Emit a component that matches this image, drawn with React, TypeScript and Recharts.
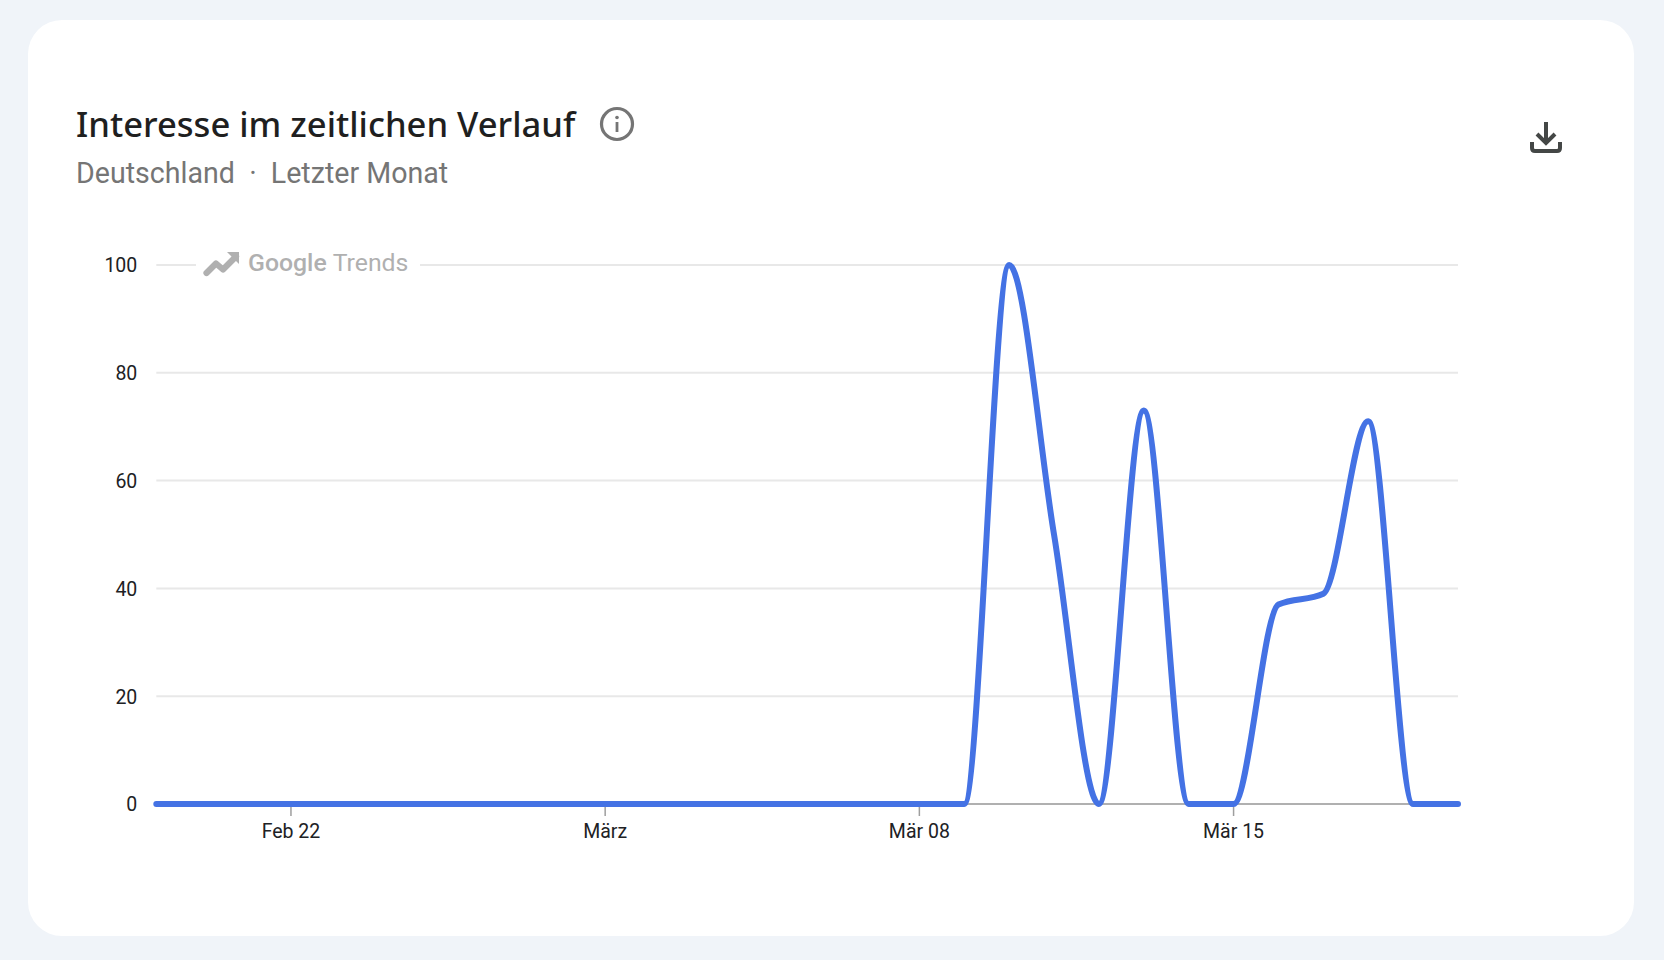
import { LineChart, Line, XAxis, YAxis, CartesianGrid } from 'recharts'

const days = [
  'Feb 19', 'Feb 20', 'Feb 21', 'Feb 22', 'Feb 23', 'Feb 24', 'Feb 25', 'Feb 26', 'Feb 27', 'Feb 28',
  'März', 'Mär 02', 'Mär 03', 'Mär 04', 'Mär 05', 'Mär 06', 'Mär 07', 'Mär 08', 'Mär 09', 'Mär 10',
  'Mär 11', 'Mär 12', 'Mär 13', 'Mär 14', 'Mär 15', 'Mär 16', 'Mär 17', 'Mär 18', 'Mär 19', 'Mär 20',
]
const interest = [
  0, 0, 0, 0, 0, 0, 0, 0, 0, 0,
  0, 0, 0, 0, 0, 0, 0, 0, 0, 100,
  50, 0, 73, 0, 0, 37, 39, 71, 0, 0,
]
const xTicks = ['Feb 22', 'März', 'Mär 08', 'Mär 15']
const yTicks = [0, 20, 40, 60, 80, 100]

const chartData = days.map((day, i) => ({ day, value: interest[i] }))

const FONT = 'Roboto, sans-serif'

const App = () => {
  return (
    <div style={{ position: 'absolute', left: 0, top: 0, width: 1664, height: 960, background: '#f0f4f9', overflow: 'hidden', fontFamily: FONT }}>
      <div style={{ position: 'absolute', left: 28, top: 20, width: 1606, height: 916, background: '#fff', borderRadius: 34 }} />

      <div style={{ position: 'absolute', left: 76, top: 102, fontSize: 34.6, lineHeight: '44px', fontFamily: '"Noto Sans", sans-serif', fontWeight: 500, color: '#1f1f1f', whiteSpace: 'nowrap' }}>
        Interesse im zeitlichen Verlauf
      </div>
      <div style={{ position: 'absolute', left: 76, top: 154.5, fontSize: 28.6, lineHeight: '36px', color: '#757575', whiteSpace: 'nowrap' }}>
        Deutschland&nbsp; ·&nbsp; Letzter Monat
      </div>

      <svg style={{ position: 'absolute', left: 598, top: 106 }} width="38" height="36" viewBox="0 0 38 36">
        <circle cx="19" cy="18" r="15.5" fill="none" stroke="#757575" strokeWidth="3.2" />
        <rect x="17.6" y="16" width="2.8" height="10" fill="#757575" />
        <circle cx="19" cy="11.5" r="1.8" fill="#757575" />
      </svg>

      <svg style={{ position: 'absolute', left: 1526, top: 118 }} width="40" height="40" viewBox="0 0 40 40">
        <path d="M20 4 V24 M11 16 L20 25 L29 16" fill="none" stroke="#444746" strokeWidth="4" />
        <path d="M6 24 V30 Q6 33 9 33 H31 Q34 33 34 30 V24" fill="none" stroke="#444746" strokeWidth="4" />
      </svg>

      <div style={{ position: 'absolute', left: 0, top: 0 }}>
        <LineChart width={1664} height={960} data={chartData} margin={{ top: 265, right: 206, bottom: 96, left: 96.3 }}>
          <CartesianGrid horizontal vertical={false} stroke="#e8e8e8" strokeWidth={2} syncWithTicks />
          <XAxis
            dataKey="day"
            ticks={xTicks}
            interval={0}
            padding={{ left: 0, right: 0 }}
            height={60}
            stroke="#9e9e9e"
            strokeWidth={1.5}
            tickSize={12}
            tickMargin={8}
            tick={{ fill: '#202124', fontSize: 19.5, fontFamily: FONT }}
          />
          <YAxis
            domain={[0, 100]}
            ticks={yTicks}
            width={60}
            axisLine={false}
            tickLine={false}
            tickMargin={19}
            tickSize={0}
            tick={{ fill: '#202124', fontSize: 19.5, fontFamily: FONT, dy: 0.5 }}
          />
          <Line
            dataKey="value"
            type="monotone"
            stroke="#4472e4"
            strokeWidth={6}
            strokeLinecap="round"
            dot={false}
            activeDot={false}
            isAnimationActive={false}
            zIndex={600}
          />
        </LineChart>
      </div>

      <div style={{ position: 'absolute', left: 196, top: 248, width: 224, height: 32, background: '#fff' }} />
      <svg style={{ position: 'absolute', left: 203, top: 250 }} width="38" height="27" viewBox="0 0 38 27">
        <path d="M3.5 23 L13 13.5 L20 19.5 L33 6.5" fill="none" stroke="#b0b0b0" strokeWidth="6.2" strokeLinecap="round" strokeLinejoin="round" />
        <path d="M24 2 H36 V14 Z" fill="#b0b0b0" />
      </svg>
      <div style={{ position: 'absolute', left: 248, top: 247, fontSize: 24.8, lineHeight: '32px', color: '#b0b0b0', whiteSpace: 'nowrap' }}>
        <span style={{ fontWeight: 500 }}>Google</span>
        <span style={{ marginLeft: 6 }}>Trends</span>
      </div>
    </div>
  )
}

export default App
